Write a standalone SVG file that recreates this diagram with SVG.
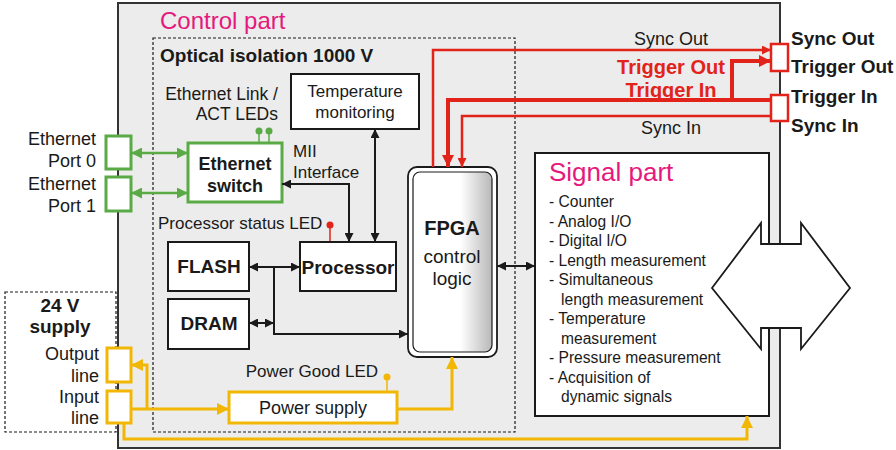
<svg xmlns="http://www.w3.org/2000/svg" width="896" height="450" viewBox="0 0 896 450">
<defs>
<style>
text{font-family:"Liberation Sans",Arial,sans-serif;fill:#1a1a1a}
.b{font-weight:bold}
.r{text-anchor:end}
.m{text-anchor:middle}
.box{fill:#fff;stroke:#1a1a1a;stroke-width:2}
.g{fill:#fff;stroke:#5aaa46;stroke-width:3}
.y{fill:#fff;stroke:#f2b705;stroke-width:3}
.rd{fill:#fff;stroke:#e2231a;stroke-width:2.5}
.ck{fill:none;stroke:#1a1a1a;stroke-width:2}
.cg{fill:none;stroke:#5aaa46;stroke-width:2.5}
.cy{fill:none;stroke:#f2b705;stroke-width:3}
.cr{fill:none;stroke:#e2231a;stroke-width:2.5}
.crt{fill:none;stroke:#e2231a;stroke-width:4}
.mag{fill:#e5197d}
.red{fill:#e2231a}
.lst{font-size:15.6px}
</style>
<marker id="ak" viewBox="0 0 10 10" refX="10" refY="5" markerWidth="10" markerHeight="9" markerUnits="userSpaceOnUse" orient="auto-start-reverse"><path d="M0,0 L10,5 L0,10 z" fill="#1a1a1a"/></marker>
<marker id="ag" viewBox="0 0 10 10" refX="10" refY="5" markerWidth="12" markerHeight="11" markerUnits="userSpaceOnUse" orient="auto-start-reverse"><path d="M0,0 L10,5 L0,10 z" fill="#5aaa46"/></marker>
<marker id="ay" viewBox="0 0 10 10" refX="10" refY="5" markerWidth="13" markerHeight="12" markerUnits="userSpaceOnUse" orient="auto-start-reverse"><path d="M0,0 L10,5 L0,10 z" fill="#f2b705"/></marker>
<marker id="ar" viewBox="0 0 10 10" refX="10" refY="5" markerWidth="11" markerHeight="9" markerUnits="userSpaceOnUse" orient="auto-start-reverse"><path d="M0,0 L10,5 L0,10 z" fill="#e2231a"/></marker>
<marker id="art" viewBox="0 0 10 10" refX="10" refY="5" markerWidth="13" markerHeight="12" markerUnits="userSpaceOnUse" orient="auto-start-reverse"><path d="M0,0 L10,5 L0,10 z" fill="#e2231a"/></marker>
<linearGradient id="fg" x1="0" y1="0" x2="1" y2="0">
<stop offset="0" stop-color="#fff"/><stop offset="0.6" stop-color="#fff"/><stop offset="1" stop-color="#b8b8b8"/>
</linearGradient>
</defs>

<g id="control-part">
<rect x="118" y="3" width="662" height="445" fill="#ebeceb" stroke="#333" stroke-width="2"/>
<text x="160" y="29" font-size="24" class="mag">Control part</text>
</g>

<g id="optical-isolation">
<rect x="153" y="38" width="362" height="394" fill="none" stroke="#1a1a1a" stroke-width="1.2" stroke-dasharray="3,2"/>
<text x="160" y="62" font-size="19" class="b">Optical isolation 1000 V</text>
</g>

<g id="supply-24v">
<rect x="5" y="292" width="111" height="140" fill="#fff" stroke="#1a1a1a" stroke-width="1.2" stroke-dasharray="3,2"/>
<text x="60" y="312" font-size="19" class="b m">24 V</text>
<text x="60" y="333" font-size="19" class="b m">supply</text>
<text x="99" y="360" font-size="18" class="r">Output</text>
<text x="99" y="382" font-size="18" class="r">line</text>
<text x="99" y="403" font-size="18" class="r">Input</text>
<text x="99" y="424" font-size="18" class="r">line</text>
</g>

<g id="signal-part">
<rect x="535" y="153" width="234" height="263" class="box"/>
<text x="549" y="181" font-size="26" class="mag">Signal part</text>
<text class="lst" x="549" y="207">- Counter</text>
<text class="lst" x="549" y="226.5">- Analog I/O</text>
<text class="lst" x="549" y="246">- Digital I/O</text>
<text class="lst" x="549" y="265.5">- Length measurement</text>
<text class="lst" x="549" y="285">- Simultaneous</text>
<text class="lst" x="561" y="304.5">length measurement</text>
<text class="lst" x="549" y="324">- Temperature</text>
<text class="lst" x="561" y="343.5">measurement</text>
<text class="lst" x="549" y="363">- Pressure measurement</text>
<text class="lst" x="549" y="382.5">- Acquisition of</text>
<text class="lst" x="561" y="402">dynamic signals</text>
</g>

<g id="io-arrow">
<polygon points="712,288 761,223 761,244 801,244 801,223 850,288 801,349 801,328 761,328 761,349" fill="#fff" stroke="#1a1a1a" stroke-width="1.8" stroke-linejoin="miter"/>
</g>

<g id="port0">
<rect x="106" y="136" width="25" height="33" class="g"/>
<text x="96" y="145" font-size="18" class="r">Ethernet</text>
<text x="96" y="167" font-size="18" class="r">Port 0</text>
</g>
<g id="port1">
<rect x="106" y="177" width="25" height="34" class="g"/>
<text x="96" y="190" font-size="18" class="r">Ethernet</text>
<text x="96" y="212" font-size="18" class="r">Port 1</text>
</g>

<g id="ethernet-switch">
<rect x="188" y="143" width="94" height="59" class="g"/>
<text x="235" y="170" font-size="18" class="b m">Ethernet</text>
<text x="235" y="192" font-size="18" class="b m">switch</text>
</g>

<g id="ethernet-leds">
<text x="278" y="100" font-size="17.5" class="r">Ethernet Link /</text>
<text x="278" y="120" font-size="17.5" class="r">ACT LEDs</text>
<line x1="259" y1="131" x2="259" y2="143" stroke="#5aaa46" stroke-width="1.5"/>
<line x1="269" y1="131" x2="269" y2="143" stroke="#5aaa46" stroke-width="1.5"/>
<circle cx="259" cy="131" r="3.5" fill="#5aaa46"/>
<circle cx="269" cy="131" r="3.5" fill="#5aaa46"/>
</g>

<g id="temperature-monitoring">
<rect x="291" y="74" width="128" height="55" class="box"/>
<text x="355" y="97" font-size="17" class="m">Temperature</text>
<text x="355" y="118" font-size="17" class="m">monitoring</text>
</g>

<g id="mii-label">
<text x="293" y="157" font-size="17">MII</text>
<text x="293" y="178" font-size="17">Interface</text>
</g>

<g id="processor-led">
<text x="158" y="229" font-size="17">Processor status LED</text>
<line x1="330" y1="225" x2="330" y2="242" stroke="#e2231a" stroke-width="1.5"/>
<circle cx="330" cy="225" r="3.5" fill="#e2231a"/>
</g>

<g id="processor">
<rect x="300" y="242" width="96" height="49" class="box"/>
<text x="348" y="274" font-size="19" class="b m">Processor</text>
</g>

<g id="flash">
<rect x="168" y="242" width="81" height="49" class="box"/>
<text x="209" y="273" font-size="19" class="b m">FLASH</text>
</g>

<g id="dram">
<rect x="168" y="299" width="81" height="50" class="box"/>
<text x="209" y="330" font-size="19" class="b m">DRAM</text>
</g>

<g id="fpga">
<rect x="408" y="167" width="89" height="190" rx="9" fill="#fff" stroke="#1a1a1a" stroke-width="1.8"/>
<rect x="413" y="172" width="79" height="180" rx="7" fill="url(#fg)" stroke="#1a1a1a" stroke-width="1.2"/>
<text x="452" y="235" font-size="20" class="b m">FPGA</text>
<text x="452" y="263" font-size="19" class="m">control</text>
<text x="452" y="285" font-size="19" class="m">logic</text>
</g>

<g id="power-supply">
<rect x="229" y="392" width="168" height="31" class="y"/>
<text x="313" y="414" font-size="18" class="m">Power supply</text>
</g>

<g id="power-led">
<text x="378" y="377" font-size="17" class="r">Power Good LED</text>
<line x1="387" y1="377" x2="387" y2="392" stroke="#f2b705" stroke-width="1.5"/>
<circle cx="387" cy="377" r="3.5" fill="#f2b705"/>
</g>

<g id="output-line-port"><rect x="107" y="348" width="24" height="34" class="y"/></g>
<g id="input-line-port"><rect x="107" y="391" width="24" height="32" class="y"/></g>

<g id="sync-out-port">
<rect x="771" y="44" width="17" height="27" class="rd"/>
<text x="791" y="45" font-size="19" class="b">Sync Out</text>
<text x="791" y="73" font-size="19" class="b">Trigger Out</text>
</g>
<g id="sync-in-port">
<rect x="771" y="95" width="17" height="26" class="rd"/>
<text x="791" y="103" font-size="19" class="b">Trigger In</text>
<text x="791" y="132" font-size="19" class="b">Sync In</text>
</g>

<g id="sync-labels">
<text x="671" y="45" font-size="18" class="m">Sync Out</text>
<text x="671" y="74" font-size="20" class="b m red">Trigger Out</text>
<text x="671" y="97" font-size="20" class="b m red">Trigger In</text>
<text x="671" y="134" font-size="18" class="m">Sync In</text>
</g>

<g id="connectors">
<path class="cg" d="M131,153 H188" marker-start="url(#ag)" marker-end="url(#ag)"/>
<path class="cg" d="M131,193 H188" marker-start="url(#ag)" marker-end="url(#ag)"/>
<path class="ck" d="M349,242 V184 H282" marker-start="url(#ak)" marker-end="url(#ak)"/>
<path class="ck" d="M375,129 V242" marker-start="url(#ak)" marker-end="url(#ak)"/>
<path class="ck" d="M249,267 H300" marker-start="url(#ak)" marker-end="url(#ak)"/>
<path class="ck" d="M249,323 H274" marker-start="url(#ak)" marker-end="url(#ak)"/>
<path class="ck" d="M274,267 V334 H408" marker-end="url(#ak)"/>
<path class="ck" d="M497,266 H535" marker-start="url(#ak)" marker-end="url(#ak)"/>
<path class="cr" d="M433,167 V50 H771" marker-end="url(#ar)"/>
<path class="crt" d="M732,100 V61 H771" marker-end="url(#art)"/>
<path class="crt" d="M771,100 H448 V167" marker-end="url(#art)"/>
<path class="cr" d="M771,116 H462 V167" marker-end="url(#ar)"/>
<path class="cy" d="M131,409 H229" marker-end="url(#ay)"/>
<path class="cy" d="M147,409 V365 H131" marker-end="url(#ay)"/>
<path class="cy" d="M397,409 H452 V357" marker-end="url(#ay)"/>
<path class="cy" d="M124,423 V439 H747 V416" marker-end="url(#ay)"/>
</g>
</svg>
